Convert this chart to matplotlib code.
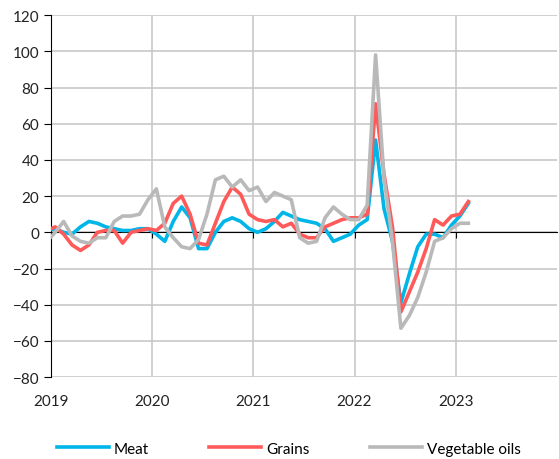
import numpy as np
import pandas as pd
import matplotlib.pyplot as plt

# monthly observations, Dec 2018 - Feb 2023
months = pd.date_range('2018-12-01', '2023-02-01', freq='MS')

meat = [1,
        2, 0, -1, 3, 6, 5, 3, 2, 1, 1, 2, 2,
        -1, -5, 6, 14, 8, -9, -9, 0, 6, 8, 6, 2,
        0, 2, 6, 11, 9, 7, 6, 5, 2, -5, -3, -1,
        4, 7, 51, 13, -5, -39, -23, -8, -1, -1, -3, 4,
        9, 16]
grains = [1,
          3, -1, -7, -10, -7, 0, 1, 1, -6, 0, 1, 2,
          1, 5, 16, 20, 10, -6, -7, 5, 17, 25, 21, 10,
          7, 6, 7, 3, 5, -1, -3, -3, 3, 5, 7, 8,
          8, 10, 71, 32, 3, -44, -33, -22, -9, 7, 4, 9,
          10, 17]
veg_oils = [-5,
            0, 6, -2, -5, -6, -3, -3, 6, 9, 9, 10, 18,
            24, 3, -3, -8, -9, -4, 10, 29, 31, 25, 29, 23,
            25, 17, 22, 20, 18, -3, -6, -5, 8, 14, 10, 7,
            7, 15, 98, 30, -5, -53, -46, -36, -22, -5, -3, 2,
            5, 5]

years = [2019, 2020, 2021, 2022, 2023]
yticks = np.arange(-80, 121, 20)

# plot at mid-month as decimal years
x = months.year + (months.month - 0.5) / 12

plt.rcParams['font.family'] = ['Lato', 'DejaVu Sans']

fig = plt.figure(figsize=(5.59, 4.60), dpi=100)
ax = fig.add_axes([0.0912, 0.178, 0.905, 0.787])

ax.plot(x, meat, color='#00B6E8', lw=2.6, label='Meat', zorder=3)
ax.plot(x, grains, color='#FF5A5A', lw=2.6, label='Grains', zorder=4)
ax.plot(x, veg_oils, color='#B9B9B9', lw=2.6, label='Vegetable oils', zorder=5)

ax.set_xlim(2019, 2024)
ax.set_ylim(-80, 120)
ax.set_yticks(yticks)
ax.set_xticks(years)
ax.grid(True, color='#C8C8C8', lw=1.2)
ax.set_axisbelow(True)

for s in ['top', 'right']:
    ax.spines[s].set_visible(False)
ax.spines['left'].set_color('black')
ax.spines['bottom'].set_position(('data', 0))
ax.spines['bottom'].set_color('black')
ax.tick_params(axis='x', direction='out', length=4, labelbottom=False)
ax.tick_params(axis='y', direction='out', length=5, labelsize=11, labelcolor='#222222')

sec = ax.secondary_xaxis('bottom')
sec.set_xticks(years)
sec.tick_params(length=0, labelsize=11, pad=12, labelcolor='#222222')
sec.spines['bottom'].set_visible(False)

ax.legend(loc='upper center', bbox_to_anchor=(0.47, -0.14), ncol=3, frameon=False,
          fontsize=11, handlelength=3.4, handletextpad=0.3, columnspacing=4.0)

fig.savefig('out.png', dpi=100)
